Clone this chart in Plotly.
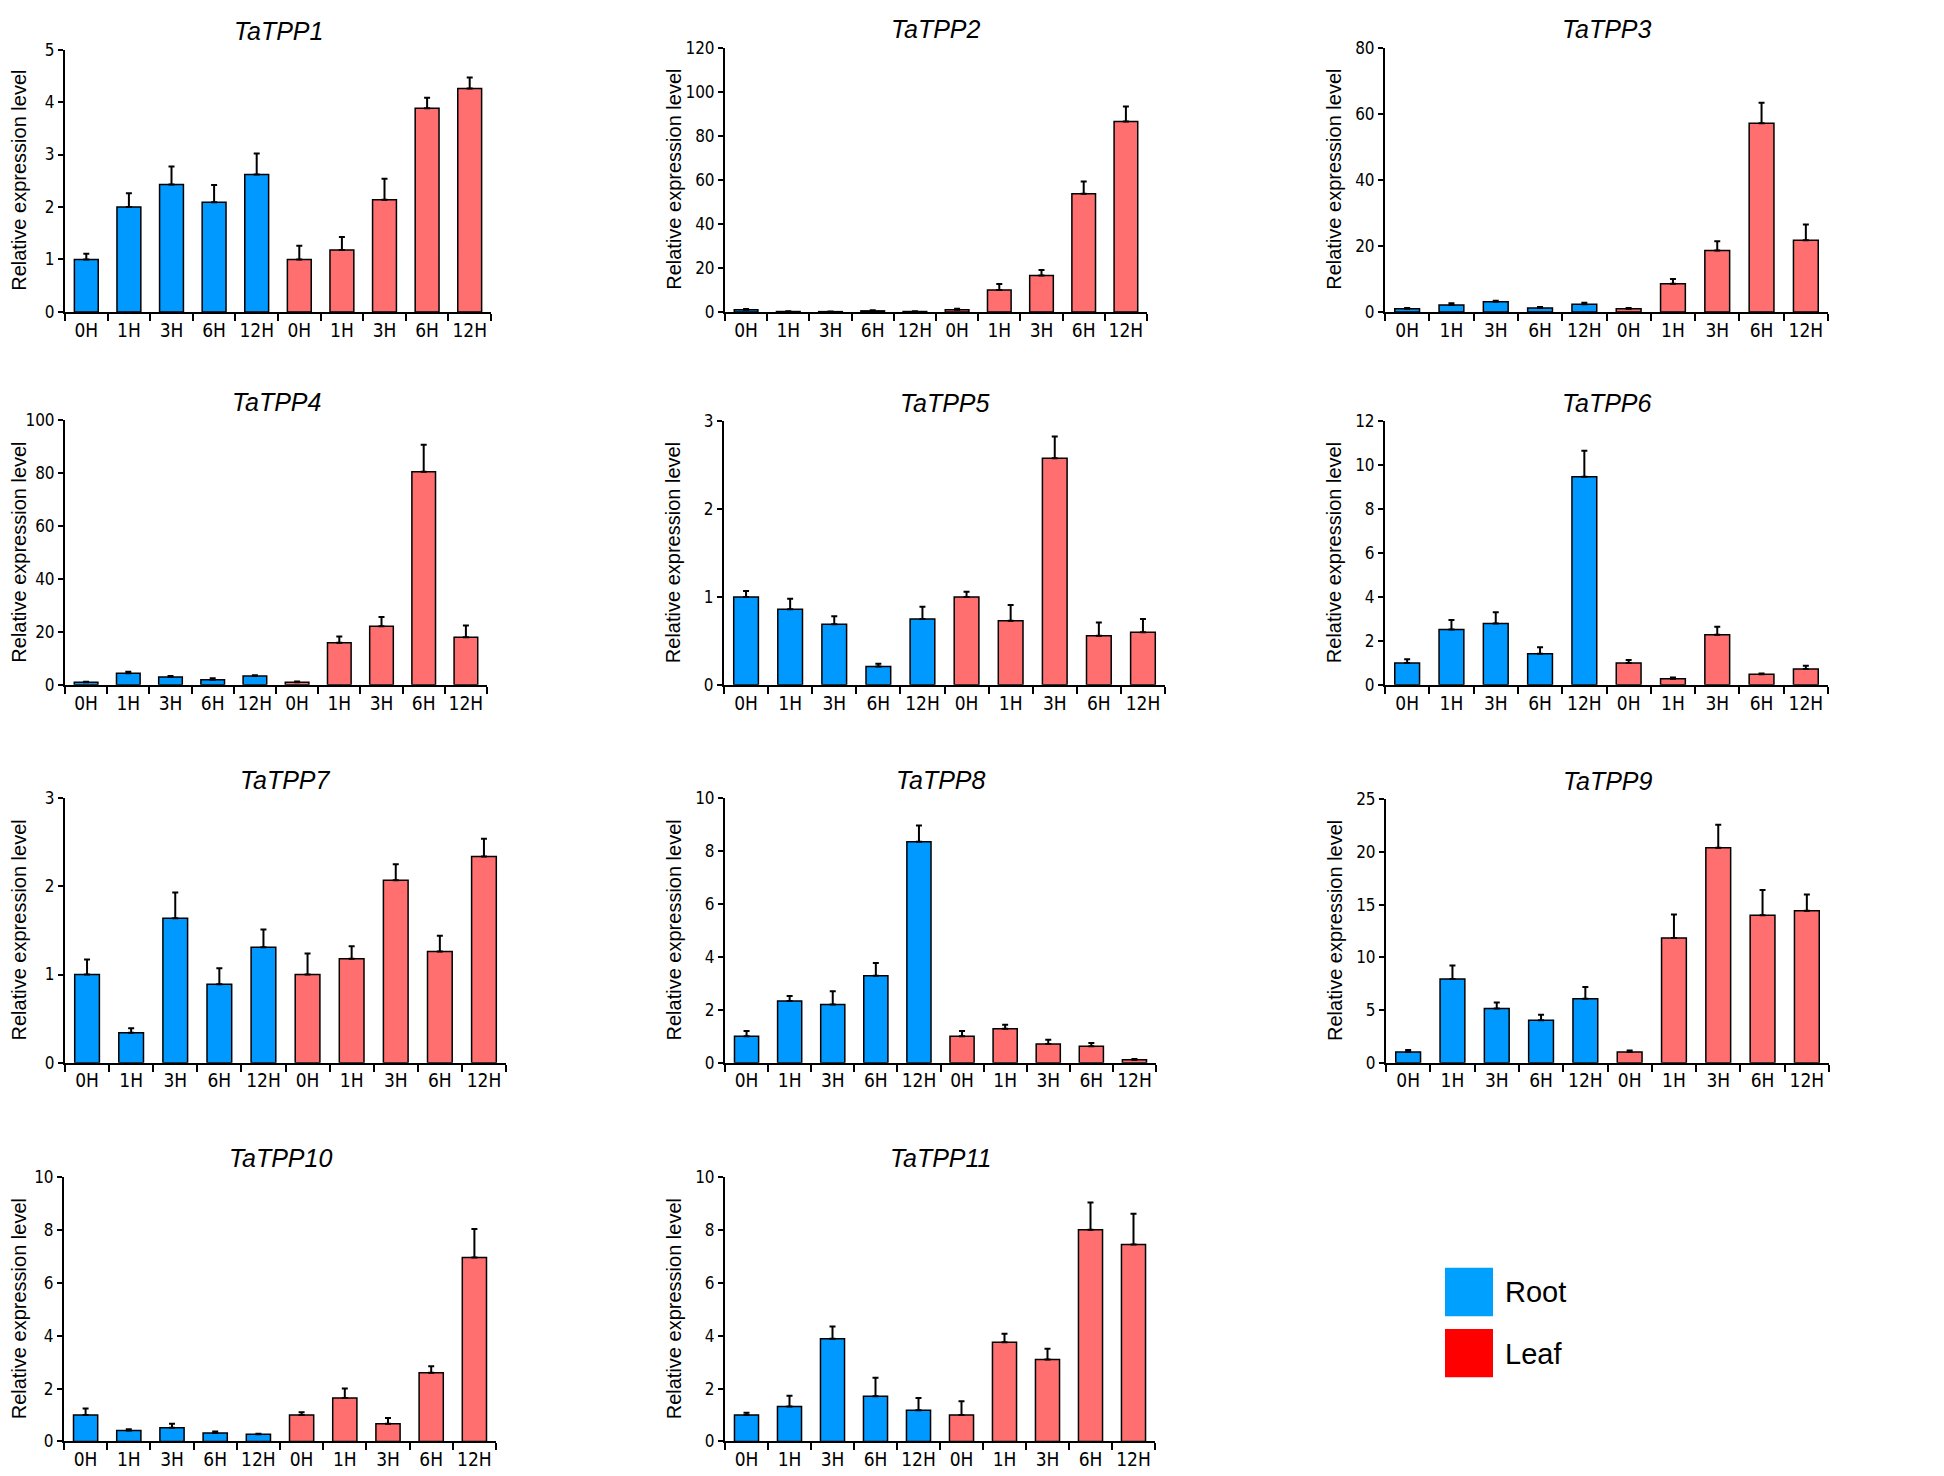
import plotly.graph_objects as go

TIMES = ["0H", "1H", "3H", "6H", "12H"]
GENES = ["TaTPP1", "TaTPP2", "TaTPP3", "TaTPP4", "TaTPP5", "TaTPP6",
         "TaTPP7", "TaTPP8", "TaTPP9", "TaTPP10", "TaTPP11"]
Y_MAX = [5, 120, 80, 100, 3, 12, 3, 10, 25, 10, 10]
Y_STEP = [1, 20, 20, 20, 1, 2, 1, 2, 5, 2, 2]

tpp1_root = [1.0, 2.0, 2.43, 2.09, 2.62]
tpp1_root_sd = [0.11, 0.26, 0.34, 0.33, 0.40]
tpp1_leaf = [1.0, 1.18, 2.14, 3.88, 4.26]
tpp1_leaf_sd = [0.26, 0.25, 0.40, 0.20, 0.21]

tpp2_root = [1.0, 0.2, 0.15, 0.5, 0.2]
tpp2_root_sd = [0.3, 0.1, 0.1, 0.3, 0.1]
tpp2_leaf = [1.0, 10.0, 16.6, 53.7, 86.5]
tpp2_leaf_sd = [0.4, 2.7, 2.5, 5.5, 6.8]

tpp3_root = [1.0, 2.1, 3.1, 1.2, 2.3]
tpp3_root_sd = [0.2, 0.5, 0.3, 0.3, 0.5]
tpp3_leaf = [1.0, 8.5, 18.6, 57.1, 21.7]
tpp3_leaf_sd = [0.2, 1.5, 2.8, 6.2, 4.8]

tpp4_root = [1.0, 4.35, 3.0, 1.9, 3.35]
tpp4_root_sd = [0.2, 0.6, 0.3, 0.6, 0.3]
tpp4_leaf = [1.0, 15.9, 22.2, 80.6, 18.0]
tpp4_leaf_sd = [0.3, 2.4, 3.5, 10.2, 4.4]

tpp5_root = [1.0, 0.86, 0.69, 0.21, 0.75]
tpp5_root_sd = [0.07, 0.12, 0.09, 0.03, 0.14]
tpp5_leaf = [1.0, 0.73, 2.58, 0.56, 0.60]
tpp5_leaf_sd = [0.06, 0.18, 0.25, 0.15, 0.15]

tpp6_root = [1.0, 2.52, 2.80, 1.42, 9.48]
tpp6_root_sd = [0.17, 0.43, 0.51, 0.29, 1.19]
tpp6_leaf = [1.0, 0.28, 2.28, 0.48, 0.72]
tpp6_leaf_sd = [0.13, 0.06, 0.37, 0.04, 0.15]

tpp7_root = [1.0, 0.34, 1.64, 0.89, 1.31]
tpp7_root_sd = [0.17, 0.05, 0.29, 0.18, 0.20]
tpp7_leaf = [1.0, 1.18, 2.07, 1.26, 2.34]
tpp7_leaf_sd = [0.24, 0.14, 0.18, 0.18, 0.20]

tpp8_root = [1.0, 2.33, 2.2, 3.29, 8.36]
tpp8_root_sd = [0.2, 0.19, 0.5, 0.48, 0.61]
tpp8_leaf = [1.0, 1.28, 0.71, 0.62, 0.11]
tpp8_leaf_sd = [0.2, 0.15, 0.16, 0.12, 0.03]

tpp9_root = [1.0, 7.94, 5.14, 4.02, 6.07]
tpp9_root_sd = [0.2, 1.27, 0.56, 0.53, 1.12]
tpp9_leaf = [1.0, 11.83, 20.39, 13.98, 14.41]
tpp9_leaf_sd = [0.15, 2.24, 2.18, 2.4, 1.56]

tpp10_root = [1.0, 0.41, 0.52, 0.32, 0.27]
tpp10_root_sd = [0.25, 0.05, 0.15, 0.06, 0.02]
tpp10_leaf = [1.0, 1.64, 0.67, 2.6, 6.96]
tpp10_leaf_sd = [0.1, 0.36, 0.22, 0.24, 1.08]

tpp11_root = [1.0, 1.32, 3.88, 1.71, 1.18]
tpp11_root_sd = [0.09, 0.41, 0.47, 0.7, 0.46]
tpp11_leaf = [1.0, 3.75, 3.1, 8.01, 7.45]
tpp11_leaf_sd = [0.52, 0.32, 0.41, 1.03, 1.16]

root_vals = [tpp1_root, tpp2_root, tpp3_root, tpp4_root, tpp5_root, tpp6_root,
             tpp7_root, tpp8_root, tpp9_root, tpp10_root, tpp11_root]
root_sds = [tpp1_root_sd, tpp2_root_sd, tpp3_root_sd, tpp4_root_sd, tpp5_root_sd, tpp6_root_sd,
            tpp7_root_sd, tpp8_root_sd, tpp9_root_sd, tpp10_root_sd, tpp11_root_sd]
leaf_vals = [tpp1_leaf, tpp2_leaf, tpp3_leaf, tpp4_leaf, tpp5_leaf, tpp6_leaf,
             tpp7_leaf, tpp8_leaf, tpp9_leaf, tpp10_leaf, tpp11_leaf]
leaf_sds = [tpp1_leaf_sd, tpp2_leaf_sd, tpp3_leaf_sd, tpp4_leaf_sd, tpp5_leaf_sd, tpp6_leaf_sd,
            tpp7_leaf_sd, tpp8_leaf_sd, tpp9_leaf_sd, tpp10_leaf_sd, tpp11_leaf_sd]

W, H = 1944, 1476
# plot areas in pixels: left, right, top, bottom
boxes = [
    (57, 483, 32, 298), (717, 1139, 30, 298), (1377, 1820, 30, 298),
    (57, 479, 408, 676), (716, 1157, 409, 676), (1377, 1820, 409, 676),
    (57, 498, 791, 1059), (717, 1148, 791, 1059), (1378, 1821, 792, 1059),
    (56, 488, 1175, 1443), (717, 1147, 1175, 1443),
]

ROOT_COL = "#0099ff"
LEAF_COL = "#ff6f6f"
X_FONT = dict(family="DejaVu Sans Condensed, Liberation Sans", size=19, color="black")
Y_FONT = dict(family="DejaVu Sans Condensed, Liberation Sans", size=17, color="black")

fig = go.Figure()
annotations = []
layout = {}

for i, gene in enumerate(GENES):
    n = "" if i == 0 else str(i + 1)
    l, r, t, b = boxes[i]
    err = dict(type="data", symmetric=False, color="black", thickness=2, width=3)
    fig.add_trace(go.Bar(x=list(range(5)), y=root_vals[i], width=0.56,
                         marker=dict(color=ROOT_COL, line=dict(color="black", width=1.5)),
                         error_y=dict(err, array=root_sds[i], arrayminus=[0] * 5),
                         xaxis="x" + n, yaxis="y" + n, showlegend=False))
    fig.add_trace(go.Bar(x=list(range(5, 10)), y=leaf_vals[i], width=0.56,
                         marker=dict(color=LEAF_COL, line=dict(color="black", width=1.5)),
                         error_y=dict(err, array=leaf_sds[i], arrayminus=[0] * 5),
                         xaxis="x" + n, yaxis="y" + n, showlegend=False))

    layout["xaxis" + n] = dict(
        domain=[l / W, r / W], anchor="y" + n, range=[-0.5, 9.5],
        showline=True, linecolor="black", linewidth=2, showgrid=False, zeroline=False,
        tickmode="array", tickvals=list(range(10)), ticktext=TIMES + TIMES, ticks="",
        tickfont=X_FONT,
        minor=dict(tickmode="linear", tick0=-0.5, dtick=1, ticks="outside",
                   ticklen=7, tickwidth=2, tickcolor="black", showgrid=False),
    )
    layout["yaxis" + n] = dict(
        domain=[1 - b / H, 1 - t / H], anchor="x" + n, range=[0, Y_MAX[i]],
        showline=True, linecolor="black", linewidth=2, showgrid=False, zeroline=False,
        tickmode="linear", tick0=0, dtick=Y_STEP[i], ticks="outside",
        ticklen=5, tickwidth=2, tickcolor="black", tickfont=Y_FONT,
    )
    annotations.append(dict(text=gene, xref="paper", yref="paper",
                            x=(l + r) / 2 / W, y=1 - (t - 19) / H,
                            xanchor="center", yanchor="middle", showarrow=False,
                            font=dict(family="Liberation Sans", size=25, style="italic", color="black")))
    tx = 11 if l < 100 else l - 51
    annotations.append(dict(text="Relative expression level", xref="paper", yref="paper",
                            x=tx / W, y=1 - (t + b) / 2 / H, textangle=-90,
                            xanchor="center", yanchor="middle", showarrow=False,
                            font=dict(family="Liberation Sans", size=20, color="black")))

# legend drawn by hand
shapes = []
for label, col, y0 in [("Root", "#00a0ff", 1267), ("Leaf", "#ff0000", 1329)]:
    shapes.append(dict(type="rect", xref="paper", yref="paper",
                       x0=1437 / W, x1=1485 / W, y0=1 - (y0 + 49) / H, y1=1 - y0 / H,
                       fillcolor=col, line=dict(width=0)))
    annotations.append(dict(text=label, xref="paper", yref="paper",
                            x=1495 / W, y=1 - (y0 + 25) / H, xanchor="left", yanchor="middle",
                            showarrow=False,
                            font=dict(family="Liberation Sans", size=29, color="black")))

fig.update_layout(
    width=W, height=H, margin=dict(l=0, r=0, t=0, b=0),
    paper_bgcolor="white", plot_bgcolor="white",
    annotations=annotations, shapes=shapes, **layout,
)

fig.write_html("out.html")
